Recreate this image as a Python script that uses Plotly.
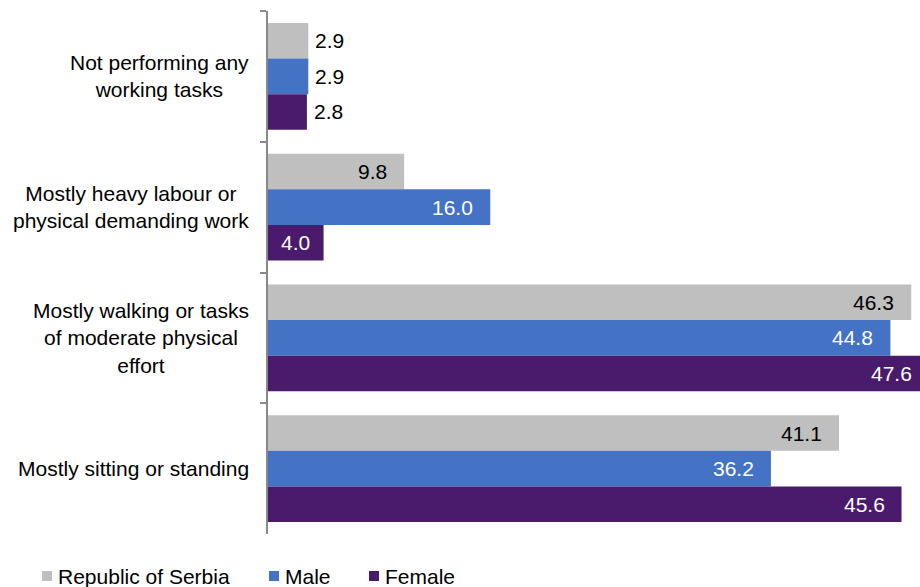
import plotly.graph_objects as go

# ---- data -------------------------------------------------------------
categories = [
    "Not performing any<br>working tasks",
    "Mostly heavy labour or<br>physical demanding work",
    "Mostly walking or tasks<br>of moderate physical<br>effort",
    "Mostly sitting or standing",
]
series_names = ["Republic of Serbia", "Male", "Female"]
serbia = [2.9, 9.8, 46.3, 41.1]
male = [2.9, 16.0, 44.8, 36.2]
female = [2.8, 4.0, 47.6, 45.6]
series_values = [serbia, male, female]

# ---- styling ----------------------------------------------------------
colors = ["#BFBFBF", "#4472C4", "#4A1A6C"]
inside_text_colors = ["#000000", "#FFFFFF", "#FFFFFF"]
AXIS_GREY = "#898989"
FONT = "Liberation Sans, Arial, Helvetica, sans-serif"
FS = 21

W, H = 920, 587
M_L, M_R, M_T, M_B = 268, 0, 11, 53
PLOT_W = W - M_L - M_R
PLOT_H = H - M_T - M_B
X_MAX = 46.93
BARGAP = 0.185

OUTSIDE_BELOW = 3.5   # labels of very short bars sit past the bar end
CENTER_BELOW = 6.0    # short bars get a centred label
PAD_END = 15          # gap between an inside label and the bar end
PAD_OUT = 5           # gap between an outside label and the bar end


def px_x(px):
    """pixel x in the page -> paper x"""
    return (px - M_L) / PLOT_W


def px_y(py):
    """pixel y in the page -> paper y"""
    return (H - M_B - py) / PLOT_H


fig = go.Figure()

for name, vals, col in zip(series_names, series_values, colors):
    fig.add_trace(go.Bar(
        name=name,
        y=categories,
        x=vals,
        orientation="h",
        marker=dict(color=col, line=dict(width=0)),
        cliponaxis=True,
        showlegend=False,
        hovertemplate=name + ": %{x:.1f}<extra></extra>",
    ))

fig.update_layout(
    width=W,
    height=H,
    margin=dict(l=M_L, r=M_R, t=M_T, b=M_B, pad=0),
    paper_bgcolor="white",
    plot_bgcolor="white",
    barmode="group",
    bargap=BARGAP,
    bargroupgap=0,
    font=dict(family=FONT, size=FS, color="#000000"),
    showlegend=False,
    xaxis=dict(visible=False, range=[0, X_MAX], fixedrange=True),
    yaxis=dict(
        type="category",
        autorange="reversed",
        showticklabels=False,
        ticks="outside",
        tickson="boundaries",
        ticklen=6,
        tickwidth=1.5,
        tickcolor=AXIS_GREY,
        showline=True,
        linewidth=1.5,
        linecolor=AXIS_GREY,
        showgrid=False,
        zeroline=False,
        fixedrange=True,
    ),
)

# value labels: one per bar, shifted to its slot inside the group
n_series = len(series_names)
bar_px = PLOT_H / len(categories) * (1 - BARGAP) / n_series
for si, (vals, tcol) in enumerate(zip(series_values, inside_text_colors)):
    yshift = ((n_series - 1) / 2 - si) * bar_px
    for cat, v in zip(categories, vals):
        if v < OUTSIDE_BELOW:
            x, anchor, xshift, color = v, "left", PAD_OUT, "#000000"
        elif v < CENTER_BELOW:
            x, anchor, xshift, color = v / 2, "center", 0, tcol
        else:
            x, anchor, xshift, color = v, "right", -PAD_END, tcol
        # bars running past the axis end are clipped; their label keeps
        # following the true bar end
        if x <= X_MAX:
            xref = "x"
        else:
            xref, x = "x domain", x / X_MAX
        fig.add_annotation(
            x=x, xref=xref, xanchor=anchor, xshift=xshift,
            y=cat, yref="y", yanchor="middle", yshift=yshift,
            text=f"{v:.1f}", showarrow=False,
            font=dict(family=FONT, size=FS, color=color),
        )

# category labels, centred multi-line text to the left of the axis
for cat in categories:
    fig.add_annotation(
        x=0, xref="paper", xanchor="right", xshift=-17,
        y=cat, yref="y", yanchor="middle",
        text=cat, align="center", showarrow=False,
        font=dict(family=FONT, size=FS, color="#000000"),
    )

# legend row under the chart
LEGEND_SQ_LEFT = [42, 269, 369]
LEGEND_CY = 576
SQ = 10
for name, col, sx in zip(series_names, colors, LEGEND_SQ_LEFT):
    fig.add_shape(
        type="rect", xref="paper", yref="paper",
        x0=px_x(sx), x1=px_x(sx + SQ),
        y0=px_y(LEGEND_CY + SQ / 2), y1=px_y(LEGEND_CY - SQ / 2),
        fillcolor=col, line=dict(width=0), layer="above",
    )
    fig.add_annotation(
        xref="paper", yref="paper",
        x=px_x(sx + SQ + 4), y=px_y(LEGEND_CY),
        xanchor="left", yanchor="middle",
        text=name, showarrow=False,
        font=dict(family=FONT, size=FS, color="#000000"),
    )

fig.write_html("out.html")
